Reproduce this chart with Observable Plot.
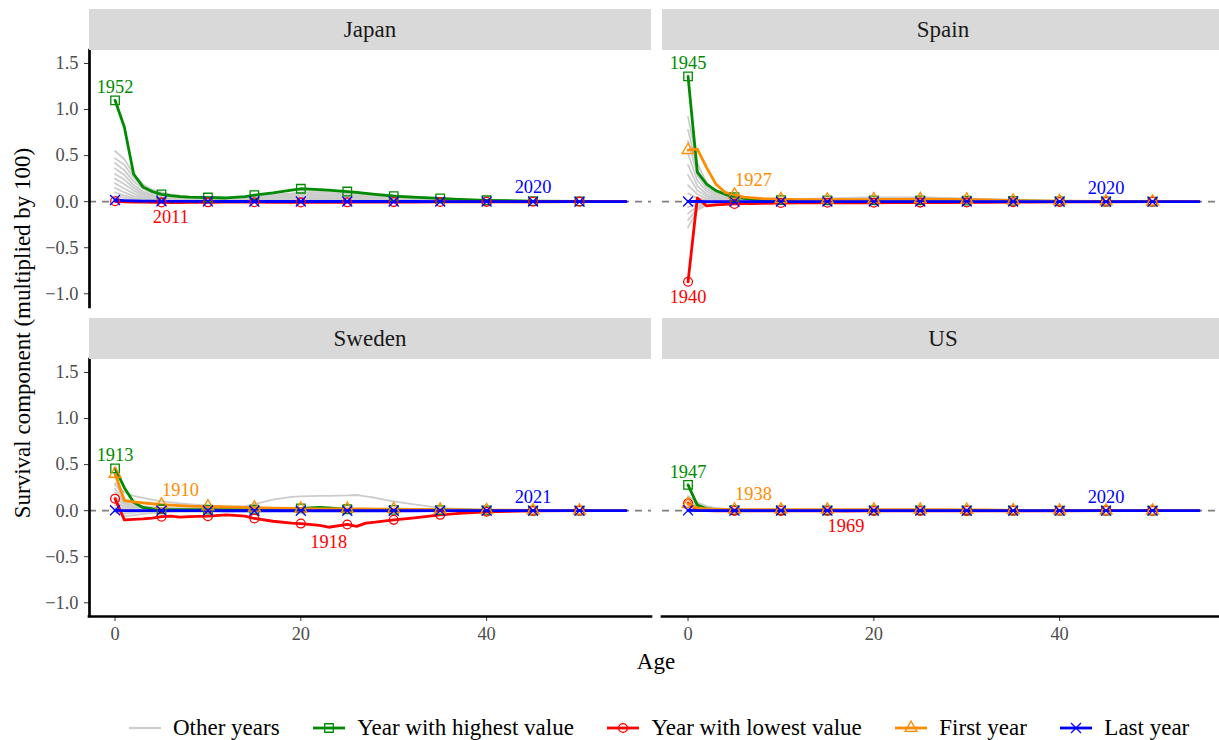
<!DOCTYPE html>
<html>
<head>
<meta charset="utf-8">
<script src="https://cdn.jsdelivr.net/npm/d3@7"></script>
<script src="https://cdn.jsdelivr.net/npm/@observablehq/plot@0.6"></script>
<style>
  body { margin: 0; background: #fff; overflow: hidden; }
  #chart { position: relative; width: 1219px; height: 740px; overflow: hidden;
           font-family: "Liberation Serif", "Times New Roman", serif; }
  .panel { position: absolute; }
  .panel svg { overflow: visible; display: block; }
  .panel svg, .panel svg text, .panel svg g { font-family: "Liberation Serif", "Times New Roman", serif !important; }
  .strip { position: absolute; background: #D9D9D9; color: #1A1A1A; font-size: 23px;
           text-align: center; height: 41px; line-height: 41px; }
  .ytitle { position: absolute; left: 22px; top: 333px; font-size: 23px; color: #000;
            white-space: nowrap; line-height: 1; transform: translate(-50%, -50%) rotate(-90deg); }
  .xtitle { position: absolute; left: 656px; top: 661px; font-size: 23px; color: #000;
            line-height: 1; transform: translate(-50%, -50%); }
  .legend { position: absolute; left: 128px; top: 728px; display: flex; align-items: center;
            transform: translateY(-50%); font-size: 23px; color: #000; white-space: nowrap; }
  .legend .item { display: flex; align-items: center; margin-right: 32.5px; }
  .legend .item:last-child { margin-right: 0; }
  .legend svg { display: block; margin-right: 11px; }
</style>
</head>
<body>
<div id="chart"></div>
<script>
// Ages at which each life-table series is stored
const ages = [0,1,2,3,4,5,6,7,8,10,12,14,15,17,19,20,22,23,25,26,27,28,30,32,35,37,40,45,50,55];

const countries = ["Japan", "Spain", "Sweden", "US"];

// Highlighted years per country
const highestYear = [1952, 1945, 1913, 1947];
const lowestYear  = [2011, 1940, 1918, 1969];
const firstYear   = [null, 1927, 1910, 1938];
const lastYear    = [2020, 2020, 2021, 2020];

// Age at which each highlighted year is annotated
const highestLabelAge = [0, 0, 0, 0];
const lowestLabelAge  = [6, 0, 23, 17];
const firstLabelAge   = [null, 5, 5, 5];
const lastLabelAge    = [45, 45, 45, 45];

// ---- Japan ----
const japanHighest = [1.10,0.81,0.30,0.16,0.11,0.08,0.065,0.055,0.05,0.045,0.04,0.055,0.07,0.095,0.125,0.14,0.13,0.125,0.11,0.10,0.09,0.08,0.06,0.05,0.035,0.025,0.015,0.006,0.003,0.001];
const japanLowest  = [0.004,-0.003,-0.005,-0.006,-0.007,-0.008,-0.01,-0.009,-0.008,-0.007,-0.006,-0.006,-0.006,-0.007,-0.008,-0.008,-0.008,-0.007,-0.007,-0.006,-0.006,-0.006,-0.005,-0.004,-0.003,-0.002,-0.002,-0.001,0,0];
const japanFirst   = null;
const japanLast    = [0.018,0.012,0.008,0.006,0.005,0.004,0.004,0.003,0.003,0.003,0.002,0.002,0.002,0.002,0.002,0.002,0.002,0.002,0.002,0.002,0.002,0.002,0.002,0.002,0.001,0.001,0.001,0.001,0,0];
const japanOther = [
  [0.55,0.46,0.30,0.19,0.13,0.10,0.08,0.065,0.055,0.045,0.042,0.05,0.06,0.075,0.09,0.10,0.105,0.105,0.10,0.095,0.09,0.085,0.07,0.055,0.035,0.025,0.015,0.006,0.002,0],
  [0.47,0.40,0.26,0.16,0.11,0.085,0.07,0.058,0.05,0.04,0.037,0.042,0.05,0.065,0.08,0.09,0.095,0.095,0.09,0.085,0.08,0.075,0.06,0.048,0.03,0.022,0.013,0.005,0.002,0],
  [0.42,0.34,0.22,0.14,0.095,0.075,0.06,0.05,0.043,0.035,0.032,0.036,0.042,0.055,0.068,0.075,0.08,0.08,0.075,0.07,0.066,0.062,0.05,0.04,0.026,0.018,0.011,0.004,0.001,0],
  [0.36,0.29,0.18,0.11,0.08,0.062,0.05,0.042,0.036,0.03,0.027,0.03,0.035,0.045,0.056,0.062,0.066,0.066,0.062,0.058,0.054,0.05,0.04,0.032,0.021,0.015,0.009,0.003,0.001,0],
  [0.30,0.24,0.15,0.09,0.065,0.05,0.042,0.035,0.03,0.025,0.022,0.024,0.028,0.036,0.045,0.05,0.053,0.053,0.05,0.047,0.044,0.04,0.032,0.026,0.017,0.012,0.007,0.003,0.001,0],
  [0.25,0.19,0.12,0.075,0.052,0.04,0.033,0.028,0.024,0.02,0.018,0.019,0.022,0.028,0.034,0.038,0.04,0.04,0.038,0.036,0.034,0.031,0.025,0.02,0.013,0.009,0.006,0.002,0.001,0],
  [0.20,0.14,0.09,0.055,0.04,0.03,0.025,0.021,0.018,0.015,0.013,0.014,0.016,0.02,0.025,0.028,0.03,0.03,0.028,0.026,0.024,0.022,0.018,0.014,0.009,0.007,0.004,0.002,0.001,0],
  [0.15,0.10,0.06,0.04,0.028,0.022,0.018,0.015,0.013,0.011,0.01,0.01,0.011,0.014,0.017,0.019,0.02,0.02,0.019,0.018,0.016,0.015,0.012,0.01,0.007,0.005,0.003,0.001,0,0],
  [0.10,0.065,0.04,0.026,0.019,0.015,0.012,0.01,0.009,0.008,0.007,0.007,0.008,0.01,0.012,0.013,0.014,0.014,0.013,0.012,0.011,0.01,0.008,0.007,0.005,0.004,0.002,0.001,0,0],
  [0.06,0.04,0.025,0.016,0.012,0.009,0.008,0.007,0.006,0.005,0.005,0.005,0.005,0.006,0.007,0.008,0.008,0.008,0.008,0.007,0.007,0.006,0.005,0.004,0.003,0.002,0.001,0.001,0,0]
];

// ---- Spain ----
const spainHighest = [1.36,0.32,0.19,0.12,0.08,0.05,0.035,0.025,0.02,0.017,0.015,0.014,0.014,0.014,0.014,0.014,0.014,0.014,0.014,0.013,0.013,0.012,0.011,0.01,0.008,0.006,0.004,0.002,0.001,0];
const spainLowest  = [-0.87,0.04,-0.045,-0.035,-0.03,-0.025,-0.02,-0.02,-0.018,-0.015,-0.012,-0.012,-0.012,-0.012,-0.012,-0.012,-0.011,-0.011,-0.01,-0.01,-0.01,-0.009,-0.008,-0.007,-0.006,-0.005,-0.003,-0.001,0,0];
const spainFirst   = [0.56,0.57,0.37,0.19,0.10,0.075,0.05,0.04,0.032,0.026,0.023,0.022,0.022,0.022,0.023,0.024,0.025,0.025,0.026,0.026,0.025,0.024,0.022,0.018,0.012,0.009,0.005,0.002,0.001,0];
const spainLast    = [0.002,0.002,0.001,0.001,0.001,0.001,0.001,0.001,0.001,0.001,0.001,0.001,0.001,0.001,0.001,0.001,0.001,0.001,0.001,0.001,0.001,0.001,0.001,0.001,0.001,0.001,0.001,0,0,0];
const spainOther = [
  [0.92,0.42,0.20,0.11,0.07,0.05,0.04,0.035,0.032,0.03,0.03,0.033,0.035,0.04,0.045,0.046,0.047,0.047,0.046,0.045,0.043,0.041,0.036,0.03,0.021,0.015,0.009,0.004,0.001,0],
  [0.78,0.35,0.17,0.09,0.06,0.042,0.034,0.029,0.025,0.022,0.021,0.024,0.027,0.031,0.035,0.036,0.037,0.037,0.036,0.035,0.033,0.031,0.027,0.022,0.016,0.011,0.007,0.003,0.001,0],
  [0.66,0.29,0.14,0.075,0.048,0.034,0.027,0.023,0.02,0.017,0.016,0.018,0.02,0.023,0.026,0.027,0.028,0.028,0.027,0.026,0.025,0.023,0.02,0.016,0.011,0.008,0.005,0.002,0.001,0],
  [0.52,0.23,0.11,0.058,0.037,0.026,0.021,0.018,0.015,0.013,0.012,0.013,0.014,0.016,0.018,0.019,0.02,0.02,0.019,0.018,0.017,0.016,0.014,0.011,0.008,0.006,0.004,0.002,0,0],
  [0.40,0.17,0.08,0.043,0.027,0.019,0.015,0.013,0.011,0.009,0.008,0.009,0.01,0.011,0.012,0.013,0.013,0.013,0.013,0.012,0.012,0.011,0.009,0.007,0.005,0.004,0.002,0.001,0,0],
  [0.29,0.12,0.058,0.031,0.019,0.013,0.01,0.009,0.008,0.007,0.006,0.006,0.007,0.008,0.008,0.009,0.009,0.009,0.009,0.008,0.008,0.007,0.006,0.005,0.004,0.003,0.002,0.001,0,0],
  [0.18,0.08,0.036,0.019,0.012,0.008,0.006,0.005,0.005,0.004,0.004,0.004,0.004,0.005,0.005,0.005,0.005,0.005,0.005,0.005,0.005,0.004,0.004,0.003,0.002,0.002,0.001,0,0,0],
  [0.09,0.04,0.018,0.01,0.006,0.004,0.003,0.003,0.002,0.002,0.002,0.002,0.002,0.002,0.003,0.003,0.003,0.003,0.003,0.003,0.002,0.002,0.002,0.002,0.001,0.001,0.001,0,0,0],
  [-0.06,-0.025,-0.012,-0.007,-0.004,-0.003,-0.002,-0.002,-0.002,-0.001,-0.001,-0.001,-0.001,-0.001,-0.001,-0.001,-0.001,-0.001,-0.001,-0.001,-0.001,-0.001,-0.001,0,0,0,0,0,0,0],
  [-0.13,-0.05,-0.022,-0.012,-0.007,-0.005,-0.004,-0.003,-0.003,-0.002,-0.002,-0.002,-0.002,-0.002,-0.002,-0.002,-0.002,-0.002,-0.002,-0.002,-0.001,-0.001,-0.001,-0.001,-0.001,0,0,0,0,0],
  [-0.20,-0.07,-0.03,-0.016,-0.01,-0.007,-0.005,-0.004,-0.004,-0.003,-0.003,-0.003,-0.003,-0.003,-0.003,-0.003,-0.003,-0.003,-0.002,-0.002,-0.002,-0.002,-0.002,-0.001,-0.001,-0.001,0,0,0,0],
  [-0.28,-0.09,-0.04,-0.02,-0.012,-0.008,-0.006,-0.005,-0.004,-0.004,-0.003,-0.003,-0.003,-0.003,-0.003,-0.003,-0.003,-0.003,-0.003,-0.003,-0.002,-0.002,-0.002,-0.002,-0.001,-0.001,0,0,0,0]
];

// ---- Sweden ----
const swedenHighest = [0.46,0.25,0.09,0.035,0.02,0.015,0.012,0.012,0.01,0.012,0.012,0.01,0.01,0.012,0.02,0.025,0.035,0.03,0.015,0.012,0.01,0.01,0.008,0.008,0.006,0.005,0.003,0.001,0,0];
const swedenLowest  = [0.13,-0.10,-0.095,-0.09,-0.08,-0.065,-0.06,-0.07,-0.065,-0.06,-0.045,-0.06,-0.085,-0.115,-0.135,-0.14,-0.16,-0.18,-0.15,-0.17,-0.135,-0.125,-0.10,-0.08,-0.045,-0.03,-0.012,-0.003,0,0];
const swedenFirst   = [0.40,0.11,0.095,0.085,0.075,0.065,0.06,0.055,0.05,0.045,0.04,0.035,0.032,0.028,0.025,0.022,0.02,0.02,0.02,0.018,0.018,0.017,0.016,0.014,0.01,0.008,0.006,0.003,0.001,0];
const swedenLast    = [0.004,0.001,0,0,0,0,0,0,0,0,-0.001,-0.001,-0.001,-0.001,-0.001,-0.001,-0.001,-0.001,-0.001,-0.001,-0.001,-0.001,-0.001,-0.001,0,0,0,0,0,0];
const swedenOther = [
  [0.28,0.20,0.16,0.14,0.12,0.10,0.09,0.08,0.07,0.055,0.045,0.05,0.07,0.12,0.15,0.155,0.16,0.16,0.165,0.17,0.155,0.14,0.10,0.07,0.03,0.02,0.01,0.003,0.001,0],
  [0.30,0.13,0.075,0.05,0.04,0.035,0.03,0.028,0.025,0.022,0.02,0.018,0.018,0.017,0.016,0.015,0.015,0.015,0.014,0.014,0.013,0.013,0.012,0.011,0.01,0.008,0.005,0.002,0.001,0],
  [0.24,0.10,0.055,0.038,0.03,0.026,0.023,0.021,0.019,0.017,0.015,0.014,0.014,0.013,0.012,0.012,0.012,0.012,0.011,0.011,0.01,0.01,0.009,0.008,0.007,0.006,0.004,0.002,0,0],
  [0.20,0.08,0.045,0.03,0.024,0.02,0.018,0.016,0.015,0.013,0.012,0.011,0.011,0.01,0.01,0.01,0.009,0.009,0.009,0.009,0.008,0.008,0.007,0.006,0.005,0.004,0.003,0.001,0,0],
  [0.15,0.06,0.033,0.022,0.017,0.014,0.012,0.011,0.01,0.009,0.008,0.008,0.007,0.007,0.007,0.007,0.006,0.006,0.006,0.006,0.006,0.005,0.005,0.004,0.003,0.003,0.002,0.001,0,0],
  [0.10,0.04,0.022,0.015,0.011,0.009,0.008,0.007,0.006,0.006,0.005,0.005,0.005,0.005,0.004,0.004,0.004,0.004,0.004,0.004,0.004,0.003,0.003,0.003,0.002,0.002,0.001,0,0,0],
  [0.06,0.02,0.01,0.007,0.005,0.004,0.004,0.003,0.003,0.003,0.002,0.002,0.002,0.002,0.002,0.002,0.002,0.002,0.002,0.002,0.002,0.002,0.001,0.001,0.001,0.001,0,0,0,0],
  [0.03,-0.06,-0.05,-0.035,-0.025,-0.02,-0.016,-0.014,-0.012,-0.01,-0.008,-0.007,-0.007,-0.006,-0.006,-0.006,-0.005,-0.005,-0.005,-0.005,-0.004,-0.004,-0.004,-0.003,-0.002,-0.002,-0.001,0,0,0],
  [0.02,-0.01,-0.008,-0.006,-0.005,-0.004,-0.004,-0.003,-0.003,-0.003,-0.002,-0.002,-0.002,-0.002,-0.002,-0.002,-0.002,-0.002,-0.002,-0.002,-0.002,-0.001,-0.001,-0.001,-0.001,0,0,0,0,0],
  [-0.02,-0.03,-0.02,-0.012,-0.008,-0.006,-0.005,-0.004,-0.004,-0.003,-0.003,-0.003,-0.003,-0.003,-0.003,-0.003,-0.003,-0.003,-0.003,-0.002,-0.002,-0.002,-0.002,-0.002,-0.001,-0.001,0,0,0,0]
];

// ---- US ----
const usHighest = [0.28,0.06,0.02,0.01,0.007,0.005,0.004,0.004,0.003,0.003,0.003,0.003,0.003,0.003,0.003,0.003,0.003,0.003,0.003,0.003,0.003,0.002,0.002,0.002,0.002,0.001,0.001,0,0,0];
const usLowest  = [0.08,0.01,0.002,-0.001,-0.002,-0.002,-0.002,-0.002,-0.002,-0.002,-0.003,-0.003,-0.003,-0.004,-0.003,-0.003,-0.003,-0.003,-0.003,-0.002,-0.002,-0.002,-0.002,-0.002,-0.001,-0.001,-0.001,0,0,0];
const usFirst   = [0.07,0.03,0.02,0.015,0.013,0.012,0.011,0.011,0.01,0.01,0.01,0.01,0.01,0.01,0.01,0.01,0.01,0.01,0.01,0.01,0.01,0.01,0.009,0.008,0.004,0.002,0.001,0,0,0];
const usLast    = [0.003,0.001,0,0,0,0,0,0,0,0,0,0,0,0,0,0,0,0,0,0,0,0,0,0,0,0,0,0,0,0];
const usOther = [
  [0.16,0.09,0.05,0.03,0.02,0.015,0.012,0.01,0.009,0.008,0.007,0.007,0.007,0.007,0.007,0.007,0.006,0.006,0.006,0.006,0.006,0.005,0.005,0.004,0.003,0.002,0.001,0,0,0],
  [0.13,0.07,0.04,0.024,0.016,0.012,0.01,0.008,0.007,0.006,0.006,0.006,0.006,0.006,0.006,0.006,0.005,0.005,0.005,0.005,0.005,0.004,0.004,0.003,0.002,0.002,0.001,0,0,0],
  [0.11,0.055,0.03,0.018,0.012,0.009,0.008,0.007,0.006,0.005,0.005,0.005,0.005,0.005,0.005,0.005,0.004,0.004,0.004,0.004,0.004,0.004,0.003,0.003,0.002,0.001,0.001,0,0,0],
  [0.09,0.04,0.022,0.014,0.01,0.008,0.006,0.005,0.005,0.004,0.004,0.004,0.004,0.004,0.004,0.004,0.003,0.003,0.003,0.003,0.003,0.003,0.003,0.002,0.002,0.001,0,0,0,0],
  [0.06,0.025,0.014,0.009,0.006,0.005,0.004,0.004,0.003,0.003,0.003,0.003,0.003,0.003,0.003,0.003,0.002,0.002,0.002,0.002,0.002,0.002,0.002,0.001,0.001,0.001,0,0,0,0],
  [0.04,0.015,0.008,0.005,0.004,0.003,0.003,0.002,0.002,0.002,0.002,0.002,0.002,0.002,0.002,0.002,0.002,0.002,0.001,0.001,0.001,0.001,0.001,0.001,0.001,0,0,0,0,0],
  [0.02,0.008,0.004,0.003,0.002,0.002,0.001,0.001,0.001,0.001,0.001,0.001,0.001,0.001,0.001,0.001,0.001,0.001,0.001,0.001,0.001,0.001,0,0,0,0,0,0,0,0],
  [-0.01,-0.004,-0.002,-0.001,-0.001,-0.001,0,0,0,0,0,0,0,0,0,0,0,0,0,0,0,0,0,0,0,0,0,0,0,0]
];

const highestSeries = [japanHighest, spainHighest, swedenHighest, usHighest];
const lowestSeries  = [japanLowest, spainLowest, swedenLowest, usLowest];
const firstSeries   = [japanFirst, spainFirst, swedenFirst, usFirst];
const lastSeries    = [japanLast, spainLast, swedenLast, usLast];
const otherSeries   = [japanOther, spainOther, swedenOther, usOther];

// Scales shared by the four panels
const xDomain = [-2.75, 57.75];
const yDomain = [-1.149, 1.641];
const xTicks = [0, 20, 40];
const yTicks = [-1, -0.5, 0, 0.5, 1, 1.5];

// Drawing styles for the highlighted series (legend order)
const kinds = [
  {key: "highest", label: "Year with highest value", color: "#008B00", symbol: "square",   r: 4.8,
   series: highestSeries, years: highestYear, labelAge: highestLabelAge, dx: 0,  dy: -13},
  {key: "lowest",  label: "Year with lowest value",  color: "#FF0000", symbol: "circle",   r: 4.4,
   series: lowestSeries,  years: lowestYear,  labelAge: lowestLabelAge,  dx: 0,  dy: 15},
  {key: "first",   label: "First year",              color: "#FF8C00", symbol: "triangle", r: 4.4,
   series: firstSeries,   years: firstYear,   labelAge: firstLabelAge,   dx: 19, dy: -15},
  {key: "last",    label: "Last year",               color: "#0000FF", symbol: "times",    r: 4.6,
   series: lastSeries,    years: lastYear,    labelAge: lastLabelAge,    dx: 0,  dy: -14}
];
const otherColor = "#CCCCCC";

// Layout of the 2 x 2 panel grid
const panelW = 562, panelH = 257, axisLeft = 89, axisBottom = 40;
const colLeft = [0, 662];
const rowTop = [50, 359];
const stripH = 41;

const fontFamily = '"Liberation Serif", "Times New Roman", serif';
const fmtY = d => (d < 0 ? "\u2212" : "") + Math.abs(d).toFixed(1);
const markerIdx = ages.map((a, i) => (a % 5 === 0 && a <= 50 ? i : -1)).filter(i => i >= 0);

const chart = document.getElementById("chart");

countries.forEach((country, ci) => {
  const col = ci % 2, row = Math.floor(ci / 2);
  const isLeft = col === 0, isBottom = row === 1;

  const marks = [];
  // Reference line at zero
  marks.push(Plot.ruleY([0], {stroke: "#7F7F7F", strokeWidth: 1.6, strokeDasharray: "7,6"}));

  // All other years in grey
  otherSeries[ci].forEach(s => {
    marks.push(Plot.lineY(s, {x: ages, stroke: otherColor, strokeWidth: 1.8}));
  });

  // Highlighted years: lines first, then markers
  kinds.forEach(k => {
    const s = k.series[ci];
    if (!s) return;
    marks.push(Plot.lineY(s, {x: ages, stroke: k.color, strokeWidth: 2.8}));
  });
  kinds.forEach(k => {
    const s = k.series[ci];
    if (!s) return;
    marks.push(Plot.dot(markerIdx, {
      x: i => ages[i], y: i => s[i], symbol: k.symbol, r: k.r,
      stroke: k.color, fill: "none", strokeWidth: 1.3
    }));
  });

  // Year annotations
  kinds.forEach(k => {
    const s = k.series[ci];
    if (!s) return;
    const a = k.labelAge[ci];
    const v = s[ages.indexOf(a)];
    marks.push(Plot.text([k.years[ci]], {
      x: [a], y: [v], text: d => String(d), fill: k.color,
      dx: k.dx, dy: k.dy, fontSize: 18.4, fontFamily, textAnchor: "middle", lineAnchor: "middle"
    }));
  });

  // Axes on the outer panels only
  if (isLeft) {
    marks.push(Plot.axisY({ticks: yTicks, tickFormat: fmtY, tickSize: 5, tickPadding: 6,
      stroke: "#333333", fill: "#4D4D4D", label: null, fontSize: 18.4, fontFamily}));
    marks.push(Plot.ruleX([xDomain[0]], {stroke: "#000", strokeWidth: 2.7, strokeLinecap: "square"}));
  }
  if (isBottom) {
    marks.push(Plot.axisX({ticks: xTicks, tickFormat: d => String(d), tickSize: 5, tickPadding: 5,
      stroke: "#333333", fill: "#4D4D4D", label: null, fontSize: 18.4, fontFamily}));
    marks.push(Plot.ruleY([yDomain[0]], {stroke: "#000", strokeWidth: 2.7, strokeLinecap: "square"}));
  }

  const svg = Plot.plot({
    width: (isLeft ? axisLeft : 0) + panelW,
    height: panelH + (isBottom ? axisBottom : 0),
    marginLeft: isLeft ? axisLeft : 0,
    marginRight: 0,
    marginTop: 0,
    marginBottom: isBottom ? axisBottom : 0,
    x: isBottom ? {domain: xDomain} : {domain: xDomain, axis: null},
    y: isLeft ? {domain: yDomain} : {domain: yDomain, axis: null},
    style: {fontFamily, fontSize: "18.4px", background: "transparent", overflow: "visible"},
    marks
  });

  const wrap = document.createElement("div");
  wrap.className = "panel";
  wrap.style.left = (isLeft ? 0 : colLeft[1]) + "px";
  wrap.style.top = rowTop[row] + "px";
  wrap.style.width = ((isLeft ? axisLeft : 0) + panelW) + "px";
  wrap.appendChild(svg);
  chart.appendChild(wrap);

  // Facet strip above the panel
  const strip = document.createElement("div");
  strip.className = "strip";
  strip.style.left = (isLeft ? axisLeft : colLeft[1]) + "px";
  strip.style.top = (rowTop[row] - stripH) + "px";
  strip.style.width = panelW + "px";
  strip.textContent = country;
  chart.appendChild(strip);
});

// Axis titles
const yt = document.createElement("div");
yt.className = "ytitle";
yt.textContent = "Survival component (multiplied by 100)";
chart.appendChild(yt);
const xt = document.createElement("div");
xt.className = "xtitle";
xt.textContent = "Age";
chart.appendChild(xt);

// Legend
const legend = document.createElement("div");
legend.className = "legend";
const legendItems = [{label: "Other years", color: otherColor, symbol: null, width: 2.2}]
  .concat(kinds.map(k => ({label: k.label, color: k.color, symbol: k.symbol, r: k.r, width: 2.8})));
const symbolTypes = {square: d3.symbolSquare, circle: d3.symbolCircle, triangle: d3.symbolTriangle, times: d3.symbolTimes};
legendItems.forEach(it => {
  const item = document.createElement("div");
  item.className = "item";
  const ks = d3.create("svg").attr("width", 34).attr("height", 20);
  ks.append("line").attr("x1", 1).attr("x2", 33).attr("y1", 10).attr("y2", 10)
    .attr("stroke", it.color).attr("stroke-width", it.width);
  if (it.symbol) {
    ks.append("path").attr("transform", "translate(17,10)")
      .attr("d", d3.symbol(symbolTypes[it.symbol], Math.PI * it.r * it.r)())
      .attr("fill", "none").attr("stroke", it.color).attr("stroke-width", 1.3);
  }
  item.appendChild(ks.node());
  const t = document.createElement("span");
  t.textContent = it.label;
  item.appendChild(t);
  legend.appendChild(item);
});
chart.appendChild(legend);
</script>
</body>
</html>
